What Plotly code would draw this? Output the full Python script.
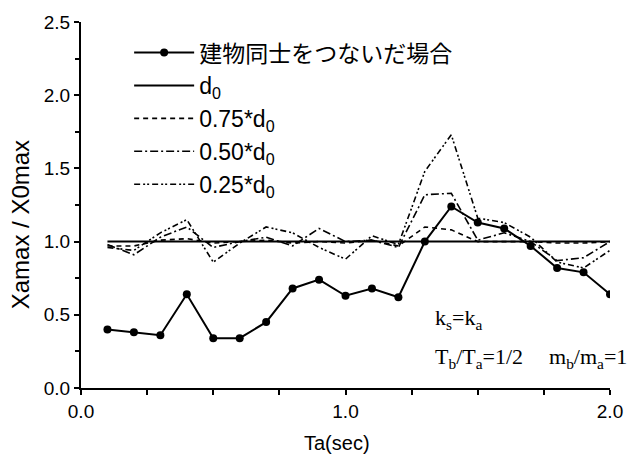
import plotly.graph_objects as go

# ---- data ----
ta = [0.1, 0.2, 0.3, 0.4, 0.5, 0.6, 0.7, 0.8, 0.9, 1.0,
      1.1, 1.2, 1.3, 1.4, 1.5, 1.6, 1.7, 1.8, 1.9, 2.0]
connected = [0.40, 0.38, 0.36, 0.64, 0.34, 0.34, 0.45, 0.68, 0.74, 0.63,
             0.68, 0.62, 1.00, 1.24, 1.13, 1.09, 0.97, 0.82, 0.79, 0.64]
d0_100 = [1.00, 1.00, 1.00, 1.00, 1.00, 1.00, 1.00, 1.00, 1.00, 1.00,
          1.00, 1.00, 1.00, 1.00, 1.00, 1.00, 1.00, 1.00, 1.00, 1.00]
d0_075 = [0.97, 0.97, 1.01, 1.02, 0.99, 1.00, 1.01, 0.99, 1.00, 0.99,
          1.01, 0.97, 1.10, 1.08, 1.00, 1.00, 1.00, 0.99, 0.99, 1.00]
d0_050 = [0.98, 0.91, 1.03, 1.10, 0.96, 1.00, 1.03, 0.97, 1.09, 1.00,
          1.01, 0.96, 1.32, 1.33, 1.01, 1.06, 1.00, 0.87, 0.89, 1.00]
d0_025 = [0.96, 0.94, 1.06, 1.15, 0.86, 0.99, 1.10, 1.06, 0.96, 0.88,
          1.04, 0.98, 1.48, 1.73, 1.16, 1.13, 1.03, 0.86, 0.82, 0.94]

names = ["建物同士をつないだ場合", "d<sub>0</sub>", "0.75*d<sub>0</sub>",
         "0.50*d<sub>0</sub>", "0.25*d<sub>0</sub>"]

x_tickvals = [0.0, 1.0, 2.0]
x_ticktext = ["0.0", "1.0", "2.0"]
y_tickvals = [0.0, 0.5, 1.0, 1.5, 2.0, 2.5]
y_ticktext = ["0.0", "0.5", "1.0", "1.5", "2.0", "2.5"]

SANS = "'Liberation Sans', Arial, 'Noto Sans CJK JP', sans-serif"
SERIF = "'Liberation Serif', 'Times New Roman', serif"

fig = go.Figure()
fig.add_trace(go.Scatter(x=ta, y=connected, name=names[0], mode="lines+markers",
                         line=dict(color="black", width=2),
                         marker=dict(color="black", size=8)))
fig.add_trace(go.Scatter(x=ta, y=d0_100, name=names[1], mode="lines",
                         line=dict(color="black", width=2)))
fig.add_trace(go.Scatter(x=ta, y=d0_075, name=names[2], mode="lines",
                         line=dict(color="black", width=1.6, dash="5px,4px")))
fig.add_trace(go.Scatter(x=ta, y=d0_050, name=names[3], mode="lines",
                         line=dict(color="black", width=1.6, dash="8px,3px,2px,3px")))
fig.add_trace(go.Scatter(x=ta, y=d0_025, name=names[4], mode="lines",
                         line=dict(color="black", width=1.6, dash="6px,3px,2px,2px,2px,3px")))

fig.update_layout(
    width=641, height=455,
    margin=dict(l=81, r=31, t=20, b=67),
    paper_bgcolor="white", plot_bgcolor="white",
    font=dict(family=SANS, size=19, color="black"),
    showlegend=True,
    legend=dict(x=0.091, y=0.975, xanchor="left", yanchor="top",
                bgcolor="rgba(0,0,0,0)", font=dict(family=SANS, size=23),
                tracegroupgap=0, itemwidth=60),
    xaxis=dict(range=[0, 2.0], showgrid=False, zeroline=False,
               showline=True, linecolor="black", linewidth=2,
               tickmode="array", tickvals=x_tickvals, ticktext=x_ticktext,
               ticks="outside", ticklen=5, tickwidth=2, tickcolor="black",
               minor=dict(dtick=0.25, ticks="outside", ticklen=5, tickwidth=2,
                          tickcolor="black", showgrid=False),
               tickfont=dict(size=19)),
    yaxis=dict(range=[0, 2.5], showgrid=False, zeroline=False,
               showline=True, linecolor="black", linewidth=2,
               tickmode="array", tickvals=y_tickvals, ticktext=y_ticktext,
               ticks="outside", ticklen=5, tickwidth=2, tickcolor="black",
               minor=dict(dtick=0.25, ticks="outside", ticklen=4, tickwidth=2,
                          tickcolor="black", showgrid=False),
               tickfont=dict(size=19)),
)

fig.add_annotation(text="Xamax / X0max", xref="paper", yref="paper",
                   x=-0.115, y=0.445, textangle=-90, showarrow=False,
                   xanchor="center", yanchor="middle",
                   font=dict(family=SANS, size=24))
fig.add_annotation(text="Ta(sec)", xref="paper", yref="paper",
                   x=0.483, y=-0.15, showarrow=False,
                   xanchor="center", yanchor="middle",
                   font=dict(family=SANS, size=20))
fig.add_annotation(text="k<sub>s</sub>=k<sub>a</sub>", xref="paper", yref="paper",
                   x=0.665, y=0.189, showarrow=False, xanchor="left", yanchor="middle",
                   font=dict(family=SERIF, size=22))
fig.add_annotation(text="T<sub>b</sub>/T<sub>a</sub>=1/2", xref="paper", yref="paper",
                   x=0.665, y=0.081, showarrow=False, xanchor="left", yanchor="middle",
                   font=dict(family=SERIF, size=22))
fig.add_annotation(text="m<sub>b</sub>/m<sub>a</sub>=1", xref="paper", yref="paper",
                   x=0.881, y=0.081, showarrow=False, xanchor="left", yanchor="middle",
                   font=dict(family=SERIF, size=22))

fig.write_html("out.html", config={"displayModeBar": False},
               post_script="document.body.style.margin='0';document.body.style.padding='0';")
